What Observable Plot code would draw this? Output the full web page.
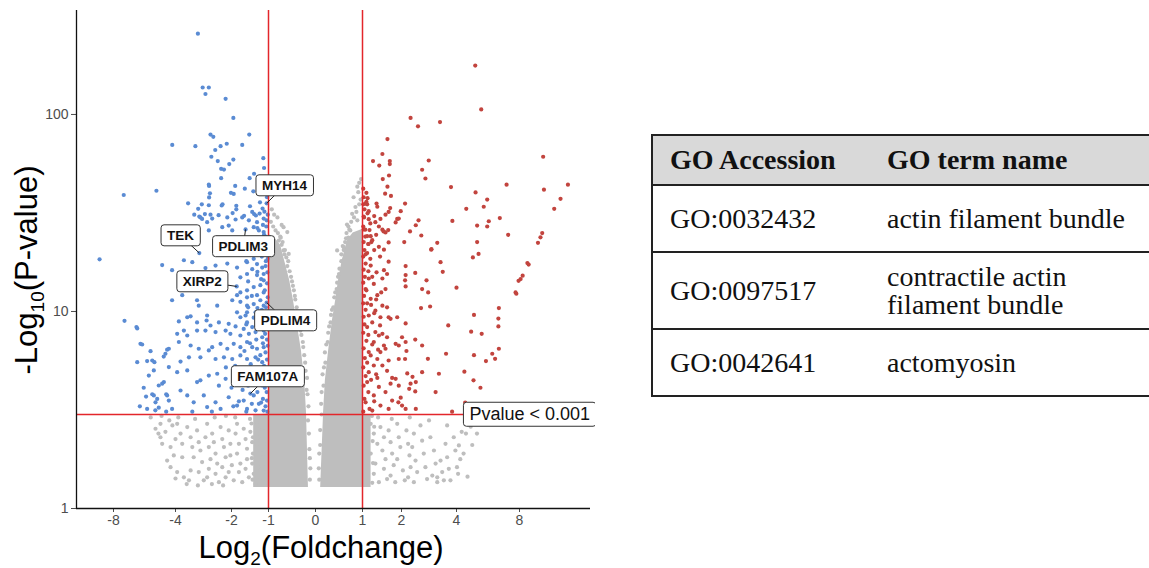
<!DOCTYPE html>
<html><head><meta charset="utf-8">
<script src="https://cdn.jsdelivr.net/npm/d3@7"></script>
<script src="https://cdn.jsdelivr.net/npm/@observablehq/plot@0.6"></script>
<style>
body{margin:0;background:#fff;width:1149px;height:568px;overflow:hidden;position:relative;font-family:"Liberation Sans",Arial,sans-serif}
#chart{position:absolute;left:0;top:0}
#chart svg g[aria-label*="axis"] text,#chart svg g[aria-label*="tick"] text{font-size:14px !important;fill:#4d4d4d !important}
#go{position:absolute;left:651px;top:134px;border-collapse:collapse;table-layout:fixed;width:520px;font-family:"Liberation Serif","Times New Roman",serif;font-size:28px;color:#111;border:2px solid #222}
#go tr{border-bottom:2px solid #222}
#go th,#go td{text-align:left;vertical-align:middle;padding:0;line-height:28px}
#go th:first-child,#go td:first-child{padding-left:17px}
#go th{background:#d9d9d9;font-weight:bold}
#go tr.h{height:50px}#go tr.r1{height:67px}#go tr.r2{height:77px}#go tr.r3{height:67px}
</style></head>
<body>
<div id="chart"></div>
<table id="go">
<colgroup><col style="width:235px"><col style="width:285px"></colgroup>
<tr class="h"><th>GO Accession</th><th>GO term name</th></tr>
<tr class="r1"><td>GO:0032432</td><td>actin filament bundle</td></tr>
<tr class="r2"><td>GO:0097517</td><td>contractile actin<br>filament bundle</td></tr>
<tr class="r3"><td>GO:0042641</td><td>actomyosin</td></tr>
</table>
<script>
// ---- data (log2 fold change, -log10 p) ----
const xTicks = [-8,-4,-2,-1,0,1,2,4,8];
const yTicks = [1,10,100];
const pThreshold = 3;
const fcThresholds = [-1, 1];

const downPoints = [[-3.20,257],[-3.03,137],[-2.81,137],[-2.93,127],[-2.21,120],[-1.95,96],[-2.75,79],[-2.65,77],[-1.52,79],[-4.21,70],[-3.29,69],[-2.39,69],[-2.17,71],[-1.71,70],[-2.58,66],[-2.72,61],[-2.49,58],[-1.95,59],[-2.08,56],[-1.14,60],[-1.12,53.5],[-2.37,53],[-2.27,52.5],[-1.51,47.5],[-1.39,50],[-2.37,47.5],[-2.81,44],[-2.80,43.4],[-1.90,43.4],[-5.23,41],[-7.34,39],[-1.64,42],[-2.02,40],[-1.94,39.5],[-1.41,40.7],[-2.77,39.8],[-2.80,37.9],[-3.55,35.4],[-3.06,35],[-2.81,34.6],[-2.32,35],[-2.35,34.5],[-1.87,34.4],[-1.87,33],[-1.50,34.2],[-1.23,35.8],[-1.05,35.4],[-3.19,33.2],[-3.33,31],[-3.15,30.3],[-2.95,31.2],[-2.75,31],[-2.46,30.8],[-1.97,31.6],[-1.66,30.6],[-1.44,32],[-1.39,31.2],[-1.34,30.7],[-1.24,31.4],[-1.11,32.1],[-1.16,33.3],[-3.05,29.5],[-1.89,29.3],
[-3.11,30.0],[-2.87,28.4],[-2.69,29.6],[-2.15,30.0],[-1.71,30.0],[-1.53,29.0],[-1.31,28.4],[-1.13,29.6],[-2.81,25.8],[-2.33,26.8],[-2.10,27.3],[-1.98,25.8],[-1.40,26.8],[-1.26,25.8],[-1.13,25.3],[-3.15,19.8],[-1.62,26.1],[-3.70,18.2],[-3.40,17.8],[-4.86,17.2],[-4.22,16.2],[-2.93,16.6],[-2.57,17.1],[-2.15,17.5],[-1.85,16.7],[-1.58,17.8],[-1.44,16.4],[-1.31,17.4],[-1.17,16.7],[-1.58,15.5],[-1.31,15.3],[-1.13,15.5],[-1.76,14.9],[-1.13,14.4],[-3.70,15.2],[-3.23,14.6],[-1.86,13.4],[-1.76,12.5],[-1.58,12.8],[-1.40,13.3],[-1.22,13.6],[-1.13,12.5],[-1.31,12.1],[-1.58,11.8],[-1.85,12.1],[-1.98,11.4],[-4.22,11.4],[-3.76,12.1],[-3.23,11.4],[-3.17,10.7],[-2.51,10.7],[-1.76,11.2],[-1.58,10.7],[-1.40,10.9],[-1.22,11.4],[-1.13,10.7],[-1.85,9.9],[-1.58,9.9],[-1.35,9.9],[-1.17,9.7],[-1.62,9.54],[-1.76,9.35],[-1.05,11.1],[-7.29,8.97],[-6.52,8.33],[-6.47,8.2],[-3.88,8.9],[-3.58,9.35],[-3.46,9.45],[-3.23,8.8],[-2.87,9.54],[-2.89,9.0],[-2.75,8.49],[-2.45,8.8],[-2.10,8.66],[-1.89,8.4],[-1.58,8.8],[-1.67,8.16],[-1.44,8.33],[-1.22,8.49],[-1.13,8.0],[-3.94,7.7],[-3.70,8.0],[-3.58,7.55],[-3.23,8.0],[-2.93,8.0],[-2.57,7.86],[-2.21,8.0],[-2.04,7.7],[-1.76,7.55],[-1.53,7.7],[-1.35,7.86],[-1.17,7.4],[-6.26,6.85],[-5.61,6.29],[-5.50,5.64],[-6.47,5.53],[-4.65,6.10],[-4.43,6.47],[-3.88,7.0],[-3.46,6.72],[-3.17,6.47],[-2.81,6.34],[-2.69,6.59],[-2.39,6.85],[-2.15,6.47],[-1.94,6.85],[-1.76,6.59],[-1.58,7.0],[-1.44,6.59],[-1.31,6.47],[-1.13,6.59],[-3.82,5.57],[-3.52,5.85],[-3.11,5.85],[-2.57,5.74],[-2.27,5.85],[-1.98,5.74],[-1.76,5.98],[-1.58,5.74],[-1.35,5.85],[-1.17,5.53],[-5.72,4.73],[-5.40,5.02],[-5.08,4.21],[-4.43,5.22],[-4.75,4.38],[-3.94,4.92],[-3.58,5.02],[-3.23,4.38],[-3.11,4.47],[-2.81,4.73],[-2.51,4.83],[-2.21,4.55],[-1.89,4.92],[-1.76,4.47],[-1.44,4.77],[-1.31,4.55],[-1.13,4.92],[-1.17,4.21],[-5.83,3.20],[-5.40,3.75],[-5.29,3.46],[-4.54,3.75],[-4.43,3.53],[-4.22,3.20],[-3.82,3.97],[-3.58,3.75],[-3.35,3.46],[-2.99,3.75],[-2.87,3.27],[-2.57,3.46],[-2.39,3.20],[-2.10,3.67],[-1.85,3.33],[-1.67,3.53],[-1.58,3.20],[-1.40,3.75],[-1.26,3.40],[-1.13,3.14],[-1.04,3.53],[-1.49,3.83],[-8.90,18.4],
[-6.15,6.8],[-5.83,5.6],[-5.36,5.53],[-4.76,5.9],[-4.54,6.4],[-6.05,4.1],[-5.50,3.8],[-5.08,3.25],[-5.18,3.6],[-4.60,3.8],[-4.86,4.3],
[-1.03,3.1],[-1.08,3.3],[-1.15,3.6],[-1.05,3.9],[-1.1,4.1],[-1.02,4.4],[-1.2,4.6],[-1.06,4.8],[-1.03,5.1],[-1.12,5.3],[-1.04,5.7],[-1.22,6.0],[-1.08,6.2],[-1.02,6.7],[-1.15,6.9],[-1.04,7.2],[-1.09,7.7],[-1.02,8.2],[-1.25,8.6],[-1.06,9.1],[-1.03,9.6],[-1.18,10.2],[-1.07,10.5],[-1.02,11.8],[-1.1,12.8],[-1.04,13.9],[-1.2,14.6],[-1.03,15.8],[-1.08,17],[-1.02,18.5],[-1.15,19.5],[-1.05,21],[-1.25,22],[-1.03,23.5],[-1.12,24.5],[-1.06,27],[-1.02,31],[-1.04,38],[-1.02,45],[-1.05,29],[-1.15,27.5],[-1.3,26.5],[-1.08,24],[-1.2,23],[-1.35,22],[-1.45,21.5],[-1.1,21],[-1.28,20],[-1.5,19.5],[-1.18,19],[-1.4,18.5],[-1.07,18],[-1.6,18],[-1.3,15.9],[-1.55,14.2],[-1.45,12],[-1.3,10.4],[-1.55,10.5],[-1.4,9.3],[-1.6,8.6],[-1.33,7.2],[-1.5,6.9],[-1.65,6.3],[-1.28,5.7],[-1.48,5.4],[-1.6,5.0],[-1.37,4.4],[-1.55,4.2],[-1.7,4.0],[-1.3,3.9],[-1.2,3.45],[-1.45,3.4],[-1.35,3.15],[-1.6,3.1],[-1.8,3.5],[-1.95,3.3],[-2.0,4.1],[-1.9,5.3],[-2.2,5.2],[-2.45,4.2],[-2.7,3.1],[-3.4,3.1],[-4.6,3.1],[-5.3,3.15],[-6.3,3.3],[-5.9,3.7]];

const upPoints = [[5.19,177],[5.57,106],[2.33,96],[2.6,87],[3.40,91.5],[1.64,75],[1.51,63],[1.27,58],[1.43,55],[1.70,58],[1.70,56],[2.99,58.4],[2.75,52.4],[2.87,47.3],[1.52,47],[1.68,49],[1.64,43],[1.58,39.6],[1.73,38.6],[1.13,37.6],[1.08,35.3],[1.12,35],[1.36,35.3],[1.38,34],[2.13,35.3],[1.71,33.5],[1.67,32],[1.98,32.3],[1.59,31],[1.16,32.3],[1.03,30.3],[1.16,29.4],[1.46,29.5],[1.33,28.4],[1.85,28.3],[1.89,29.5],[1.93,29.6],[2.52,27.4],[2.62,29],[2.31,25.5],[2.72,24.3],[1.51,26],[1.54,25.5],[1.59,25.2],[1.66,25.9],[1.42,27],[1.03,26.1],[1.18,25.9],[1.12,24.1],[1.21,24.1],[1.23,22.5],[1.15,22],[1.67,22.4],[2.10,22.5],[1.42,21.3],[1.55,20.6],[3.3,22.3],[3.08,20.6],[3.8,42.8],[5.21,40.2],[7.18,44],[9.5,61],[9.55,41.5],[11.07,44],[10.6,37.3],[10.2,33.2],[5.95,37],[5.73,34],[4.62,33.2],[6.75,29.8],[6.05,28.7],[5.95,27],[5.31,27.3],[3.85,28.8],[5.31,22.5],[7.28,24.5],[9.44,25],[9.33,23.8],[9.17,22.3],
[3.09,20.7],[5.04,18.8],[5.40,19.6],[3.42,17.8],[3.5,15.9],[8.5,17.6],[8.58,17.3],[8.2,15.2],[8.07,14.6],[7.94,14.3],[7.75,12.5],[7.8,12.3],[2.15,17],[2.15,15.3],[2.13,14.4],[2.15,13.4],[2.50,15.7],[2.91,14.4],[2.97,12.5],[2.75,13.0],[4.0,13.2],[6.69,10.4],[6.66,9.2],[6.66,8.4],[5.11,9.6],[2.71,10.4],[3.04,10.6],[3.7,8.5],[2.15,8.7],[4.93,7.9],[5.6,7.7],[5.11,6.0],[6.27,6.1],[6.45,5.75],[6.69,6.47],[5.87,5.6],[3.62,6.1],[2.96,5.75],[2.75,6.72],[2.5,7.2],[2.13,5.74],[2.18,6.3],[2.75,4.92],[3.36,4.83],[4.5,4.95],[5.08,4.47],[5.52,4.1],[3.24,3.9],[2.5,3.93],[2.33,4.3],[2.52,4.38],[2.4,4.66],[2.21,4.85],[2.28,4.05],[1.93,4.2],[1.98,3.65],[1.92,3.46],[2.15,3.2],[1.67,17.9],[1.55,16.2],[1.63,15.5],[1.51,14.7],[1.21,17.1],[1.36,15.8],[1.16,14.7],[1.29,13.8],[1.59,13.0],[1.08,13.0],[1.38,12.1],[1.21,11.6],[1.51,10.7],[1.63,10.5],[1.33,10.1],[1.16,9.54],[1.46,9.35],[1.67,9.35],[1.72,9.18],[1.89,9.35],[1.25,8.8],[1.12,8.33],[1.33,7.86],[1.51,7.7],[1.42,7.55],[1.63,7.4],[1.29,7.0],[1.55,6.72],[1.85,6.85],[1.93,6.72],[2.15,7.0],[2.02,7.4],[1.16,6.22],[1.46,6.22],[1.59,6.47],[1.21,5.98],[1.38,5.74],[1.67,5.64],[1.93,5.74],[1.29,5.32],[1.51,5.32],[1.63,5.0],[1.16,4.92],[1.38,4.6],[1.76,4.6],[1.85,4.55],[1.12,4.38],[1.42,4.14],[1.59,3.9],[1.29,3.75],[1.76,3.53],[1.72,4.3],[2.02,3.33],[2.52,3.2],[1.46,3.33],[1.08,3.46],[1.25,3.14],[1.67,3.2],[3.84,3.1],[4.55,3.45],
[1.02,3.1],[1.05,3.6],[1.03,4.2],[1.08,4.7],[1.02,5.2],[1.06,5.8],[1.03,6.5],[1.1,7.1],[1.02,7.8],[1.05,8.6],[1.03,9.4],[1.08,10.2],[1.02,11],[1.04,12],[1.1,12.8],[1.02,14],[1.06,15],[1.03,16.3],[1.08,17.5],[1.02,19],[1.05,20.5],[1.03,22.5],[1.07,24],[1.02,27],[1.04,30],[1.02,35],[1.12,19.8],[1.2,18.5],[1.15,16],[1.25,15],[1.12,11],[1.22,10.8],[1.3,9.8],[1.15,7.6],[1.25,6.8],[1.12,5.5],[1.22,4.5],[1.15,3.9],[1.3,3.5],[1.18,3.2],[1.35,4.8],[1.4,6.4],[1.45,8.5],[1.35,11.5],[1.48,12.5],[1.3,20.5],[1.45,19],[1.25,23],[1.35,24.5],[1.2,28],[1.3,30.5],[1.1,40],[1.05,33],[1.03,38],[1.02,42],[1.1,36],[1.13,31.5],[1.07,26],[1.15,22],[1.08,19.5]];

const nsPoints = [[-5.29,2.54],[-4.97,2.69],[-4.65,2.45],[-4.2,2.64],[-4.0,2.25],[-3.94,2.69],[-4.86,2.13],[-4.32,2.05],[-3.82,2.40],[-3.76,2.13],[-4.11,1.86],[-3.76,1.82],[-4.32,1.62],[-3.58,2.59],[-3.46,2.30],[-3.40,2.05],[-3.35,1.82],[-3.46,1.56],[-3.52,1.39],[-3.23,2.49],[-3.17,2.17],[-3.11,1.97],[-3.05,1.72],[-3.17,1.53],[-2.99,1.39],[-2.93,2.30],[-2.87,2.69],[-2.81,2.05],[-2.75,1.78],[-2.81,1.59],[-2.87,1.44],[-2.69,2.40],[-2.63,2.17],[-2.57,1.90],[-2.51,1.69],[-2.57,1.50],[-2.45,1.36],[-2.39,2.59],[-2.33,2.25],[-2.27,2.05],[-2.21,1.82],[-2.33,1.62],[-2.21,1.44],[-2.10,2.49],[-2.04,2.13],[-2.04,1.86],[-1.99,1.66],[-2.10,1.53],[-1.94,1.39],[-1.89,2.40],[-1.85,2.69],[-1.80,2.13],[-1.85,1.90],[-1.76,1.69],[-1.80,1.53],[-1.71,1.36],[-1.67,2.54],[-1.62,2.25],[-1.58,2.01],[-1.58,1.78],[-1.62,1.59],[-1.53,1.44],[-1.49,2.45],[-1.44,2.17],[-1.42,1.90],[-1.44,1.69],[-1.40,1.50],[-1.35,1.33],[-1.31,2.64],[-1.26,2.30],[-1.31,2.05],[-1.24,1.82],[-1.26,1.62],[-1.22,1.44],[-1.17,2.49],[-1.13,2.13],[-1.15,1.90],[-1.11,1.69],[-1.13,1.53],[-1.08,1.36],[-3.70,1.44],[-3.94,1.53],[-4.54,1.75],[-4.97,2.30],[-5.6,2.9],[-4.9,2.95],[-4.4,2.8],[-5.1,2.4],[-3.6,1.33],[-3.2,1.31],[-2.7,1.33],[-2.3,1.31],[-4.0,1.42],[-3.9,2.9],[-3.3,2.85],[-2.6,2.9],[-2.2,2.95],[-1.9,2.9],[-1.5,2.85],[-1.2,2.9],
[1.21,2.69],[1.29,2.40],[1.38,2.13],[1.21,1.90],[1.33,1.69],[1.29,1.50],[1.42,1.36],[1.46,2.59],[1.55,2.30],[1.51,1.97],[1.59,1.78],[1.55,1.59],[1.63,1.41],[1.67,2.49],[1.72,2.17],[1.76,1.90],[1.80,1.66],[1.72,1.47],[1.84,1.36],[1.89,2.69],[1.93,2.30],[1.97,2.05],[1.89,1.78],[2.05,1.56],[2.12,1.39],[2.18,2.49],[2.24,2.13],[2.29,1.86],[2.33,1.62],[2.24,1.44],[2.45,2.40],[2.39,2.05],[2.51,1.75],[2.57,1.53],[2.45,1.36],[2.69,2.64],[2.75,2.21],[2.81,1.90],[2.87,1.62],[2.93,1.41],[3.05,2.30],[3.18,1.97],[3.24,1.69],[3.12,1.47],[3.30,1.36],[3.42,1.75],[3.48,1.53],[3.60,2.13],[3.66,1.82],[3.72,1.59],[3.78,1.39],[3.90,2.30],[3.96,1.97],[4.03,1.62],[4.15,2.09],[4.24,1.78],[4.33,2.45],[4.6,2.40],[3.30,1.44],[3.54,1.39],[4.9,2.6],[5.3,2.4],[4.7,1.45],[4.45,1.9],[4.1,1.5],[5.0,2.1],[3.66,2.64],[1.4,2.9],[1.75,2.85],[2.3,2.9],[3.0,2.8],
[-0.81,30],[-0.68,26.8],[-0.60,25.3],[-0.74,23.7],[-0.78,22.9],[-0.85,25.8],[-0.89,21.1],[-0.68,20.4],[-0.57,19.6],[0.89,43],[0.91,40.3],[0.81,38],[0.67,27.6],[0.74,25.8],[0.46,20.4],[0.60,21.2],[0.70,23.7],[0.85,33.9],[0.78,31.3],[0.89,29],[0.64,17.6],
[-0.12,1.4],[-0.13,2.0],[-0.16,2.8],[-0.19,4],[-0.22,5.5],[-0.27,7],[-0.33,8.5],[-0.4,10.5],[-0.46,12.8],[-0.52,15],[-0.6,17],[-0.66,19.5],[-0.72,21.8],[0.08,1.4],[0.1,2.1],[0.13,3],[0.17,4.2],[0.21,5.5],[0.26,7],[0.32,8.8],[0.38,10.5],[0.45,13],[0.5,15.5],[0.55,18],[0.6,20.5],[0.65,23.5],[0.72,26],
[-0.11,1.6],[-0.12,1.8],[-0.14,2.4],[-0.15,3.3],[-0.17,3.8],[-0.18,4.6],[-0.21,5.0],[-0.24,6.0],[-0.26,6.6],[-0.3,7.6],[-0.32,8.0],[-0.36,9.2],[-0.38,9.8],[-0.43,11.5],[-0.44,12.0],[-0.48,13.5],[-0.5,14.2],[-0.55,16],[-0.58,18],[-0.62,18.8],[-0.65,20.5],[-0.7,22.5],[-0.75,24],[-0.8,25],[-0.9,27],[-0.95,28.5],[-0.72,27.5],[-0.88,31],[-0.93,33],
[0.07,1.6],[0.08,1.9],[0.1,2.5],[0.12,3.4],[0.13,3.9],[0.15,4.8],[0.18,5.2],[0.2,6.2],[0.23,6.8],[0.27,7.8],[0.29,8.4],[0.33,9.6],[0.35,10.2],[0.4,11.8],[0.42,12.5],[0.46,14],[0.48,15],[0.51,16.5],[0.55,19.5],[0.58,21.5],[0.63,22.5],[0.66,25],[0.7,27],[0.76,28.5],[0.82,30],[0.87,32],[0.93,35],[0.96,37],[0.93,45],[0.97,47],
[1.25,1.35],[1.27,1.7],[1.26,2.2],[1.3,2.6],[1.24,2.95],[-1.43,1.4],[-1.45,1.8],[-1.42,2.3],[-1.46,2.7]];

// envelopes of the two dense non-significant clouds (y, left x, right x)
const leftCloudY  = [1.28, 2.98, 3.02, 4.47, 6.34, 9.0, 11.4, 14.4, 18.2, 21.6, 23.5, 24.5];
const leftCloudX1 = [-1.4, -1.4, -1.0, -1.0, -1.0, -1.0, -1.0, -1.0, -1.0, -1.0, -1.0, -1.0];
const leftCloudX2 = [-0.15, -0.19, -0.19, -0.23, -0.30, -0.40, -0.47, -0.55, -0.66, -0.74, -0.86, -0.98];
const rightCloudY  = [1.28, 2.98, 3.02, 4.47, 6.34, 9.0, 11.4, 14.4, 18.2, 22.9, 25, 26];
const rightCloudX1 = [0.11, 0.17, 0.17, 0.21, 0.28, 0.36, 0.43, 0.49, 0.57, 0.68, 0.8, 0.98];
const rightCloudX2 = [1.22, 1.22, 1.0, 1.0, 1.0, 1.0, 1.0, 1.0, 1.0, 1.0, 1.0, 1.0];

const geneNames  = ["MYH14","TEK","PDLIM3","XIRP2","PDLIM4","FAM107A"];
const genePointX = [-1.05,-3.15,-1.62,-1.86,-1.05,-1.49];
const genePointY = [35.4,19.8,26.1,13.4,11.1,3.83];
const geneLabelX = [-0.66,-3.82,-1.68,-3.04,-0.64,-1.02];
const geneLabelY = [43.6,24.3,21.4,14.2,9.0,4.68];
const thresholdLabel = [{text: "Pvalue < 0.001", x: 4.44, y: pThreshold}];

// ---- chart ----
const W = 595, H = 568;
const GRAY = "#bebebe", BLUE = "#5a8bd3", RED = "#c2443e", LINE = "#e3262b";
const toRows = (ys, a, b) => ys.map((y, i) => ({y, x1: a[i], x2: b[i]}));
const genes = geneNames.map((name, i) => ({name, px: genePointX[i], py: genePointY[i], lx: geneLabelX[i], ly: geneLabelY[i]}));

const chart = Plot.plot({
  width: W, height: H,
  marginLeft: 76, marginRight: 5, marginTop: 10, marginBottom: 60,
  style: {fontFamily: "Liberation Sans, Arial, sans-serif", fontSize: "14px", color: "#4d4d4d", background: "transparent"},
  x: {type: "linear", domain: [-10.39,-8,-4,-2,-1,0,1,2,4,8,12.5], range: [76,113,175,231,268,315,362,401,456,519,590],
      ticks: xTicks, tickFormat: d => String(d), tickSize: 4, tickPadding: 3, label: null},
  y: {type: "log", domain: [1, 337], ticks: yTicks, tickFormat: d => String(d), tickSize: 5, tickPadding: 3, label: null},
  marks: [
    Plot.areaX(toRows(leftCloudY, leftCloudX1, leftCloudX2), {y: "y", x1: "x1", x2: "x2", fill: GRAY}),
    Plot.areaX(toRows(rightCloudY, rightCloudX1, rightCloudX2), {y: "y", x1: "x1", x2: "x2", fill: GRAY}),
    Plot.dot(nsPoints, {x: d => d[0], y: d => d[1], r: 2.1, fill: GRAY}),
    Plot.dot(downPoints, {x: d => d[0], y: d => d[1], r: 2.1, fill: BLUE}),
    Plot.dot(upPoints, {x: d => d[0], y: d => d[1], r: 2.1, fill: RED}),
    Plot.ruleX(fcThresholds, {stroke: LINE, strokeWidth: 1.5}),
    Plot.ruleY([pThreshold], {stroke: LINE, strokeWidth: 1.5}),
    Plot.ruleY([1], {stroke: "#111", strokeWidth: 1.3}),
    Plot.ruleX([-10.39], {stroke: "#111", strokeWidth: 1.3}),
    Plot.link(genes, {x1: "px", y1: "py", x2: "lx", y2: "ly", stroke: "#222", strokeWidth: 1}),
    Plot.text(genes, {x: "lx", y: "ly", text: "name", fontWeight: "bold", fontSize: 13.5, fill: "#111"}),
    Plot.text(thresholdLabel, {x: "x", y: "y", text: "text", dx: 6, textAnchor: "start", fontSize: 18, fill: "#111"})
  ]
});
document.getElementById("chart").appendChild(chart);

const svg = d3.select(chart);
// larger tick labels: any text that is not one of our own labels/titles
svg.selectAll("text").each(function() {
  const g = this.closest('g[aria-label]');
  const lab = g ? g.getAttribute("aria-label") : "";
  if (lab !== "text") { this.setAttribute("font-size", 14); this.style.fontSize = "14px"; this.setAttribute("fill", "#4d4d4d"); }
});

// label boxes behind the text marks
svg.selectAll('g[aria-label="text"]').each(function(_, gi) {
  d3.select(this).selectAll("text").each(function() {
    const b = this.getBBox();
    const padX = 6, padY = gi === 0 ? 3 : 2;
    const r = document.createElementNS("http://www.w3.org/2000/svg", "rect");
    r.setAttribute("x", b.x - padX); r.setAttribute("y", b.y - padY);
    r.setAttribute("width", b.width + 2 * padX); r.setAttribute("height", b.height + 2 * padY);
    r.setAttribute("rx", 3); r.setAttribute("fill", "white");
    r.setAttribute("stroke", "#333"); r.setAttribute("stroke-width", 1);
    const t = this.getAttribute("transform");
    if (t) r.setAttribute("transform", t);
    this.parentNode.insertBefore(r, this);
  });
});

// axis titles with subscripts
const xt = svg.append("text").attr("x", 321).attr("y", 558).attr("text-anchor", "middle")
  .attr("font-size", 31).attr("fill", "#000").attr("font-family", "Liberation Sans, Arial, sans-serif");
xt.append("tspan").text("Log");
xt.append("tspan").attr("font-size", 19).attr("dy", 7).text("2");
xt.append("tspan").attr("dy", -7).text("(Foldchange)");
const yt = svg.append("text").attr("transform", "translate(37,270) rotate(-90)").attr("text-anchor", "middle")
  .attr("font-size", 31).attr("fill", "#000").attr("font-family", "Liberation Sans, Arial, sans-serif");
yt.append("tspan").text("-Log");
yt.append("tspan").attr("font-size", 19).attr("dy", 7).text("10");
yt.append("tspan").attr("dy", -7).text("(P-value)");
</script>
</body></html>
